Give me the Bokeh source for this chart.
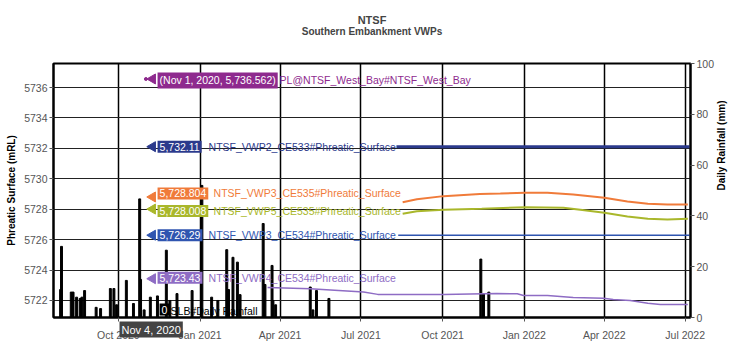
import math
from datetime import datetime
from bokeh.plotting import figure
from bokeh.models import Range1d, LinearAxis, FixedTicker, DatetimeTickFormatter, Label, Title
from bokeh.embed import file_html
from bokeh.resources import INLINE


def d(s):
    return datetime.strptime(s, "%Y-%m-%d")


def ms(s):
    return (d(s) - datetime(1970, 1, 1)).total_seconds() * 1000.0


# ---------------- data ----------------
x_ticks = ["2020-10-01", "2021-01-01", "2021-04-01", "2021-07-01",
           "2021-10-01", "2022-01-01", "2022-04-01", "2022-07-01"]
y_ticks = [5722, 5724, 5726, 5728, 5730, 5732, 5734, 5736]
rain_ticks = [0, 20, 40, 60, 80, 100]

rain_dates = ["2020-07-28", "2020-07-29", "2020-08-09", "2020-08-11", "2020-08-15", "2020-08-19",
              "2020-08-21", "2020-08-24", "2020-09-06", "2020-09-11", "2020-09-22",
              "2020-09-26", "2020-09-29", "2020-10-10", "2020-10-18", "2020-10-25",
              "2020-10-26", "2020-10-30", "2020-11-06", "2020-11-14", "2020-11-24",
              "2020-11-28", "2020-12-06", "2020-12-23", "2021-01-03", "2021-01-14",
              "2021-01-21", "2021-01-31", "2021-02-02", "2021-02-07", "2021-02-12",
              "2021-02-15", "2021-03-13", "2021-03-15", "2021-03-23", "2021-03-24",
              "2021-03-27", "2021-05-05", "2021-05-08", "2021-05-12", "2021-05-26",
              "2021-11-13", "2021-11-16", "2021-11-22"]
rain_mm = [11, 28, 10, 10, 8, 7.5,
           8, 10.6, 4, 3.5, 11.4,
           11.4, 5, 14.6, 5.5, 46.7,
           15, 3, 8, 8.5, 26.5,
           6.7, 9.4, 10.6, 52, 8,
           6.7, 26.7, 11, 23.7, 21.8,
           9, 37, 13, 20.5, 6.7,
           5, 12, 3, 10.6, 7.5,
           23, 9.4, 10]

vwp2_dates = ["2021-08-10", "2022-07-06"]
vwp2_vals = [5732.11, 5732.11]

vwp3_535_dates = ["2021-08-17", "2021-09-02", "2021-10-02", "2021-11-12", "2021-12-05",
                  "2022-01-02", "2022-01-27", "2022-02-25", "2022-04-01", "2022-04-27",
                  "2022-05-20", "2022-06-11", "2022-07-04"]
vwp3_535_vals = [5728.46, 5728.66, 5728.86, 5729.0, 5729.03,
                 5729.08, 5729.08, 5728.97, 5728.75, 5728.5,
                 5728.36, 5728.31, 5728.31]

vwp5_535_dates = ["2021-08-17", "2021-09-02", "2021-10-02", "2021-11-14", "2022-01-02",
                  "2022-02-14", "2022-03-05", "2022-04-01", "2022-04-27", "2022-05-20",
                  "2022-06-11", "2022-07-04"]
vwp5_535_vals = [5727.7, 5727.87, 5727.96, 5728.03, 5728.13,
                 5728.09, 5727.96, 5727.76, 5727.52, 5727.37,
                 5727.33, 5727.37]

vwp3_534_dates = ["2021-08-12", "2022-07-06"]
vwp3_534_vals = [5726.29, 5726.29]

vwp4_534_dates = ["2021-03-18", "2021-05-05", "2021-06-06", "2021-07-04", "2021-07-20",
                  "2021-10-02", "2021-12-01", "2021-12-24", "2021-12-31", "2022-01-27",
                  "2022-02-25", "2022-03-31", "2022-04-11", "2022-04-30", "2022-05-20",
                  "2022-06-03", "2022-07-04"]
vwp4_534_vals = [5722.85, 5722.77, 5722.66, 5722.55, 5722.4,
                 5722.4, 5722.45, 5722.44, 5722.33, 5722.33,
                 5722.2, 5722.15, 5722.07, 5722.0, 5721.82,
                 5721.74, 5721.74]

pl_dates = ["2020-11-01"]
pl_vals = [5736.562]

hover_date = "2020-11-04"
hover_date_text = "Nov 4, 2020"
hover_names = ["PL@NTSF_West_Bay#NTSF_West_Bay",
               "NTSF_VWP2_CE533#Phreatic_Surface",
               "NTSF_VWP3_CE535#Phreatic_Surface",
               "NTSF_VWP5_CE535#Phreatic_Surface",
               "NTSF_VWP3_CE534#Phreatic_Surface",
               "NTSF_VWP4_CE534#Phreatic_Surface"]
hover_values = [5736.562, 5732.11, 5728.804, 5728.008, 5726.29, 5723.43]
rain_hover_name = "SLB#Daily Rainfall"
rain_hover_value = 0

# ---------------- style ----------------
C_PL = "#8e2a8e"
C_V2 = "#2b3a8c"
C_V3A = "#f07b3a"
C_V5 = "#a9b72b"
C_V3B = "#2f55b0"
C_V4 = "#8e6cc4"
hover_colors = [C_PL, C_V2, C_V3A, C_V5, C_V3B, C_V4]
hover_dy = [-1.5, 0, 3.5, -2, 0, 1]          # pixel nudges (avoid overlap)
name_dx = [131, 60, 65, 65, 60, 60]         # pixel offset of the name text
FONT = "Liberation Sans"

p = figure(width=735, height=359, x_axis_type="datetime", output_backend="svg",
           toolbar_location=None,
           x_range=Range1d(d("2020-07-20"), d("2022-07-07")),
           y_range=Range1d(5720.88, 5737.58),
           min_border_left=53, min_border_right=45, min_border_top=63, min_border_bottom=42)
p.extra_y_ranges = {"rain": Range1d(0, 100)}
p.outline_line_color = "black"
p.outline_line_width = 2
p.background_fill_color = "white"

sub = Title(text="Southern Embankment VWPs", align="center", text_font_size="10px",
            text_font_style="bold", text_font=FONT, standoff=49, vertical_align="top")
main = Title(text="NTSF", align="center", text_font_size="11px",
             text_font_style="bold", text_font=FONT, standoff=-48)
p.add_layout(sub, "above")
p.add_layout(main, "above")

# axes
xt = FixedTicker(ticks=[ms(t) for t in x_ticks])
p.xaxis.ticker = xt
fmt = "%b %Y"
p.xaxis.formatter = DatetimeTickFormatter(milliseconds=fmt, seconds=fmt, minsec=fmt, minutes=fmt,
                                          hourmin=fmt, hours=fmt, days=fmt, months=fmt, years=fmt)
p.yaxis.ticker = FixedTicker(ticks=y_ticks)
p.yaxis.axis_label = "Phreatic Surface (mRL)"

ra = LinearAxis(y_range_name="rain", axis_label="Daily Rainfall (mm)",
                ticker=FixedTicker(ticks=rain_ticks))
p.add_layout(ra, "right")

for ax in p.axis:
    ax.major_label_text_font = FONT
    ax.major_label_text_font_size = "10.5px"
    ax.major_label_text_color = "#555555"
    ax.axis_label_text_font = FONT
    ax.axis_label_text_font_size = "10px"
    ax.axis_label_text_font_style = "bold"
    ax.axis_label_text_color = "black"
    ax.axis_line_color = "black"
    ax.axis_line_width = 2
    ax.major_tick_line_color = "#555555"
    ax.major_tick_out = 4
    ax.major_tick_in = 0
    ax.minor_tick_line_color = None
    ax.major_label_standoff = 2
    ax.axis_label_standoff = 4
p.xaxis.major_label_standoff = 7
ra.axis_label_orientation = math.pi / 2

p.xgrid.ticker = xt
p.xgrid.grid_line_color = "black"
p.xgrid.grid_line_width = 1.5
p.ygrid.grid_line_color = "#222222"
p.ygrid.grid_line_width = 1

# rainfall bars
p.vbar(x=[d(s) for s in rain_dates], top=rain_mm, bottom=0, width=2.2 * 86400000,
       color="black", y_range_name="rain")

# VWP lines
p.line([d(s) for s in vwp4_534_dates], vwp4_534_vals, color=C_V4, line_width=1.5)
p.line([d(s) for s in vwp3_534_dates], vwp3_534_vals, color=C_V3B, line_width=1.5)
p.line([d(s) for s in vwp5_535_dates], vwp5_535_vals, color=C_V5, line_width=2)
p.line([d(s) for s in vwp3_535_dates], vwp3_535_vals, color=C_V3A, line_width=2)
p.line([d(s) for s in vwp2_dates], vwp2_vals, color=C_V2, line_width=3)
p.scatter([d(s) for s in pl_dates], pl_vals, color=C_PL, size=3)

# hover labels
hx = ms(hover_date)
tip_x = hx + 4.5 * 86400000
for i, (nm, v, c) in enumerate(zip(hover_names, hover_values, hover_colors)):
    if i == 0:
        vt = "(Nov 1, 2020, " + f"{v:,}" + ")"
    else:
        vt = f"{v:,}"
    p.scatter([tip_x], [v], marker="triangle", angle=1.5708, size=10, color=c)
    p.add_layout(Label(x=hx, y=v, x_offset=9, y_offset=hover_dy[i], text=vt,
                       text_color="white", text_font=FONT, text_font_size="10.5px",
                       text_baseline="middle", text_align="left",
                       background_fill_color=c, padding=2))
    p.add_layout(Label(x=hx, y=v, x_offset=name_dx[i], y_offset=hover_dy[i], text=nm,
                       text_color=c, text_font=FONT, text_font_size="10.5px",
                       text_baseline="middle", text_align="left"))

# rainfall hover (kept inside the frame)
p.add_layout(Label(x=hx, y=rain_hover_value, y_range_name="rain", x_offset=11, y_offset=8,
                   text=str(rain_hover_value), text_color="white", text_font=FONT,
                   text_font_size="10.5px", text_baseline="middle", text_align="left",
                   background_fill_color="black", padding=2))
p.add_layout(Label(x=hx, y=rain_hover_value, y_range_name="rain", x_offset=22, y_offset=7,
                   text=rain_hover_name, text_color="black", text_font=FONT,
                   text_font_size="10.5px", text_baseline="middle", text_align="left"))

# x hover label (below the frame, over the axis labels)
xlab = Title(text=hover_date_text, align="left", offset=66, standoff=-44, vertical_align="top",
             text_color="white", text_font=FONT, text_font_size="11px",
             text_font_style="normal", background_fill_color="#444444", padding=2)
p.add_layout(xlab, "below")

open("out.html", "w").write(file_html(p, INLINE))
